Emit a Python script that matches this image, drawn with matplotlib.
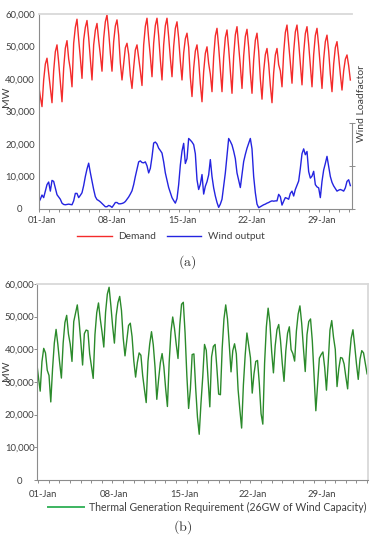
import numpy as np
import matplotlib
matplotlib.use('Agg')
import matplotlib.pyplot as plt
from matplotlib.ticker import FuncFormatter, FixedLocator
from matplotlib.lines import Line2D

plt.rcParams['font.family'] = ['Lato', 'DejaVu Sans']
plt.rcParams['mathtext.fontset'] = 'cm'

# 4-hourly readings (GW), first sample 20:00 on 31 Dec, day 0 = 01-Jan 00:00
start_day = -1/3
step_day = 1/6

demand_gw = [
    38.2, 34.5,
    31.5, 39.7, 44.6, 46.4, 41.9, 37.5,
    32.7, 42.5, 48.4, 50.5, 45.2, 39.0,
    33.0, 43.3, 49.5, 51.8, 46.2, 43.0,
    37.6, 51.0, 55.9, 58.4, 52.2, 46.5,
    40.2, 52.0, 55.9, 58.0, 52.7, 46.0,
    39.7, 50.5, 55.0, 57.1, 51.9, 47.5,
    42.4, 52.5, 57.6, 59.7, 54.5, 48.0,
    42.4, 51.5, 56.3, 58.2, 53.5, 45.0,
    39.7, 44.5, 49.6, 51.0, 47.6, 41.0,
    37.1, 43.5, 48.9, 50.5, 46.5, 42.5,
    38.0, 50.5, 56.2, 58.7, 52.5, 47.0,
    40.7, 51.0, 56.5, 58.7, 53.3, 46.0,
    39.7, 50.5, 56.4, 58.7, 53.0, 46.5,
    40.7, 50.0, 55.6, 57.6, 52.5, 45.5,
    39.7, 48.0, 52.4, 54.1, 49.8, 40.5,
    34.6, 43.3, 48.6, 50.5, 45.7, 38.5,
    33.0, 42.3, 47.9, 49.9, 44.8, 41.5,
    36.1, 46.8, 53.3, 55.6, 49.8, 43.0,
    36.1, 46.6, 52.8, 55.1, 49.4, 42.3,
    35.6, 46.9, 53.6, 56.1, 50.0, 44.0,
    37.1, 47.1, 53.1, 55.3, 49.8, 42.0,
    35.6, 45.8, 51.9, 54.1, 48.6, 40.0,
    33.8, 42.4, 47.5, 49.4, 44.7, 38.0,
    32.7, 41.9, 47.4, 49.4, 44.4, 42.5,
    37.6, 48.0, 54.3, 56.6, 50.9, 45.0,
    38.7, 48.5, 54.5, 56.6, 51.2, 44.5,
    38.2, 48.0, 54.0, 56.1, 50.7, 44.0,
    37.6, 47.5, 53.4, 55.6, 50.2, 43.5,
    37.1, 46.1, 51.5, 53.5, 48.6, 41.5,
    36.1, 44.6, 49.7, 51.5, 46.9, 41.5,
    36.6, 42.5, 46.1, 47.4, 44.1, 39.7,
]

wind_gw = [
    2.0, 3.0, 4.3, 3.5, 5.5, 7.5, 8.3, 5.5,
    8.8, 8.5, 6.5, 4.4, 3.7, 3.0,
    1.8, 1.4, 1.3, 1.4, 1.5, 1.4,
    1.3, 2.5, 4.8, 4.8, 3.5, 4.2,
    5.0, 7.2, 10.0, 12.3, 14.1, 11.2,
    8.6, 6.0, 3.8, 2.9, 2.6, 2.2,
    1.7, 1.2, 0.7, 0.7, 1.1, 0.9,
    0.5, 1.2, 2.0, 2.0, 1.6, 1.6,
    1.7, 1.9, 2.3, 3.0, 3.7, 4.6,
    5.6, 7.5, 10.0, 12.3, 14.5, 14.8,
    14.3, 14.2, 14.5, 13.3, 11.1, 12.5,
    16.0, 20.3, 20.6, 20.0, 18.7, 18.0,
    17.2, 14.5, 11.1, 8.8, 6.6, 5.0,
    3.5, 2.6, 1.8, 3.2, 7.5, 13.5,
    17.8, 20.2, 14.0, 15.5, 21.7, 21.2,
    20.6, 19.8, 17.0, 9.0, 6.0, 7.6,
    10.6, 4.6, 7.0, 8.4, 10.5, 15.2,
    10.0, 6.5, 4.0, 2.0, 0.5, 1.5,
    3.0, 7.0, 11.1, 16.5, 21.7, 20.8,
    19.7, 17.8, 15.5, 11.1, 8.8, 6.6,
    10.5, 14.6, 16.8, 18.7, 20.2, 21.7,
    18.5, 10.0, 5.0, 1.5, 0.4, 0.7,
    1.0, 1.3, 1.5, 1.8, 2.0, 2.3,
    2.5, 2.4, 2.5, 2.5, 4.5, 3.8,
    1.2, 2.4, 3.5, 3.3, 3.0, 4.8,
    5.5, 4.0, 6.0, 7.3, 8.6, 12.5,
    17.0, 18.5, 16.7, 17.7, 11.5, 9.5,
    10.1, 11.6, 7.5, 6.8, 6.5, 3.5,
    8.5, 12.0, 14.0, 16.2, 13.1, 10.0,
    8.2, 7.1, 6.3, 5.5, 5.8, 6.0,
    5.8, 5.5, 6.5, 8.5, 9.0, 7.2,
]

thermal_gw = [
    36.2, 31.5,
    27.2, 36.2, 40.3, 38.9, 33.6, 32.0,
    23.9, 34.0, 41.9, 46.1, 41.5, 36.0,
    31.2, 41.9, 48.2, 50.4, 44.7, 41.6,
    36.3, 48.5, 51.1, 53.6, 48.7, 42.3,
    35.2, 44.8, 45.9, 45.7, 38.6, 34.8,
    31.1, 44.5, 51.2, 54.2, 49.3, 45.3,
    40.7, 51.3, 56.9, 59.0, 53.4, 47.1,
    41.9, 50.3, 54.3, 56.2, 51.9, 43.4,
    38.0, 42.6, 47.3, 48.0, 43.9, 36.4,
    31.5, 36.0, 38.9, 38.2, 32.0, 27.7,
    23.7, 36.3, 41.7, 45.4, 41.4, 34.5,
    24.7, 30.7, 35.9, 38.7, 34.6, 28.0,
    22.5, 36.0, 45.3, 49.9, 46.4, 41.5,
    37.2, 47.4, 53.8, 54.4, 45.0, 32.0,
    21.9, 27.8, 38.4, 38.6, 28.1, 19.3,
    14.0, 23.5, 31.6, 41.5, 39.7, 30.9,
    22.4, 37.7, 40.9, 41.5, 34.3, 26.3,
    26.1, 40.3, 49.3, 53.6, 49.3, 41.5,
    33.1, 39.6, 41.7, 38.6, 27.7, 21.5,
    15.9, 29.1, 38.1, 45.0, 41.2, 37.4,
    26.6, 32.5, 36.3, 36.6, 29.6, 20.3,
    17.1, 35.8, 46.9, 52.6, 48.2, 39.3,
    32.8, 41.1, 46.0, 47.6, 42.7, 35.7,
    30.2, 39.5, 44.9, 46.9, 39.9, 38.7,
    36.4, 45.6, 50.8, 53.3, 47.9, 40.2,
    33.2, 44.5, 48.5, 49.3, 42.6, 32.0,
    21.2, 29.5, 37.3, 38.4, 39.2, 34.5,
    27.5, 35.9, 45.9, 48.8, 43.7, 40.0,
    28.6, 34.1, 37.5, 37.3, 35.5, 31.5,
    27.9, 37.5, 43.4, 46.0, 41.1, 35.5,
    30.8, 37.0, 39.6, 38.9, 35.6, 32.5,
]

date_labels = ['01-Jan', '08-Jan', '15-Jan', '22-Jan', '29-Jan']
label_days_a = [0, 7, 14, 21, 28]
# the lower chart's category axis puts its labels slightly off the day grid
label_days_b = [0.26, 6.96, 13.57, 20.08, 26.58]

demand = np.array(demand_gw) * 1000
wind = np.array(wind_gw) * 1000
thermal = np.array(thermal_gw) * 1000
t = start_day + step_day * np.arange(len(demand))

W, H = 374, 537
fig = plt.figure(figsize=(W / 100, H / 100), dpi=100)

txt = '#404040'
axcol = '#8c8c8c'
light = '#d9d9d9'
fmt = FuncFormatter(lambda v, p: '{:,.0f}'.format(v))


def style_axes(ax, xl, ytick_len, ypad):
    ax.set_ylim(0, 60000)
    ax.set_xlim(*xl)
    ax.set_yticks(np.arange(0, 60001, 10000))
    ax.yaxis.set_major_formatter(fmt)
    ax.tick_params(axis='y', length=ytick_len, width=0.7, color=axcol,
                   pad=ypad, labelsize=6.8, labelcolor=txt)
    for lab in ax.get_yticklabels():
        lab.set_horizontalalignment('center')
    ax.spines['left'].set_color(axcol)
    ax.spines['bottom'].set_color(axcol)
    ax.spines['left'].set_linewidth(0.8)
    ax.spines['bottom'].set_linewidth(0.8)
    ax.spines['top'].set_color(light)
    ax.spines['top'].set_linewidth(1.3)


# (a) demand and wind output
ax1 = fig.add_axes([39 / W, 1 - 209 / H, 313 / W, 195 / H])
l_dem, = ax1.plot(t, demand, color='#f42b2b', lw=1.0)
l_wind, = ax1.plot(t, wind, color='#2424e0', lw=1.0)
style_axes(ax1, (-0.3, 31.0), 0, 13.7)
ax1.spines['right'].set_visible(False)
ax1.set_xticks(label_days_a)
ax1.set_xticklabels(date_labels)
ax1.xaxis.set_minor_locator(FixedLocator(np.arange(-0.27, 31.0, 1.0)))
ax1.tick_params(axis='x', which='major', length=0, pad=5, labelsize=6.8,
                labelcolor=txt)
ax1.tick_params(axis='x', which='minor', length=2, width=0.7, color=axcol)

# wind loadfactor axis on the right
ax_lf = fig.add_axes([39 / W, 1 - 209 / H, 313 / W, 86 / H])
ax_lf.patch.set_visible(False)
for s in ['left', 'top', 'bottom']:
    ax_lf.spines[s].set_visible(False)
ax_lf.spines['right'].set_color(axcol)
ax_lf.spines['right'].set_linewidth(0.8)
ax_lf.set_ylim(0, 1)
ax_lf.set_xticks([])
ax_lf.yaxis.tick_right()
ax_lf.set_yticks([0, 0.5, 1])
ax_lf.tick_params(axis='y', direction='inout', length=4, width=0.7,
                  color=axcol, labelright=False)
fig.text(362 / W, 1 - 103 / H, 'Wind Loadfactor', rotation=90, ha='center',
         va='center', fontsize=7.5, color=txt)
fig.text(6 / W, 1 - 97 / H, 'MW', rotation=90, ha='center', va='center',
         fontsize=7.5, color=txt)

fig.legend([l_dem, l_wind], ['Demand', 'Wind output'], loc='center',
           bbox_to_anchor=(171 / W, 1 - 236.5 / H), ncol=2, frameon=False,
           fontsize=7.3, handlelength=3.4, handletextpad=0.7,
           columnspacing=1.0, labelcolor=txt)
fig.text(187 / W, 1 - 262 / H, r'$\mathrm{(a)}$', ha='center', va='center',
         fontsize=10, color='#333333')

# (b) thermal generation requirement
ax2 = fig.add_axes([37 / W, 1 - 480 / H, 331 / W, 196 / H])
ax2.plot(t, thermal, color='#2b8a2b', lw=1.0)
style_axes(ax2, (-0.30, 30.92), 2, 10.5)
ax2.spines['right'].set_color(light)
ax2.spines['right'].set_linewidth(1.3)
ax2.set_xticks(label_days_b)
ax2.set_xticklabels(date_labels)
ax2.xaxis.set_minor_locator(FixedLocator(np.arange(-0.18, 31.0, 1.0)))
ax2.tick_params(axis='x', which='major', length=0, pad=7.5, labelsize=6.8,
                labelcolor=txt)
ax2.tick_params(axis='x', which='minor', length=2, width=0.7, color=axcol)
fig.text(6 / W, 1 - 371 / H, 'MW', rotation=90, ha='center', va='center',
         fontsize=7.5, color=txt)

th_handle = Line2D([], [], color='#3cb460', lw=1.4)
fig.legend([th_handle], ['Thermal Generation Requirement (26GW of Wind Capacity)'],
           loc='center', bbox_to_anchor=(207 / W, 1 - 507 / H), frameon=False,
           fontsize=7.6, handlelength=3.4, handletextpad=0.5, labelcolor=txt)
fig.text(183 / W, 1 - 527 / H, r'$\mathrm{(b)}$', ha='center', va='center',
         fontsize=10, color='#333333')

fig.savefig('out.png', dpi=100)
